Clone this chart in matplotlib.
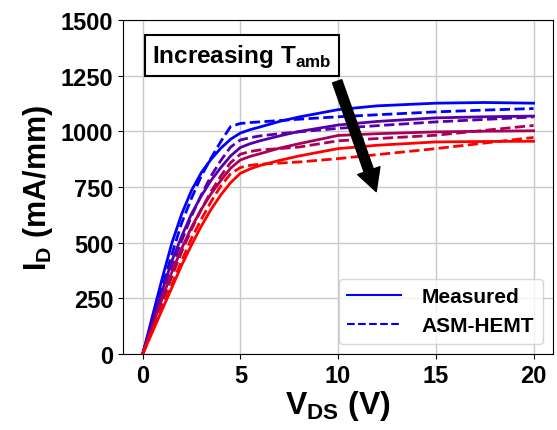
import numpy as np
import matplotlib.pyplot as plt

plt.rcParams['font.family'] = 'Liberation Sans'
plt.rcParams['font.weight'] = 'bold'
plt.rcParams['mathtext.fontset'] = 'custom'
plt.rcParams['mathtext.rm'] = 'Liberation Sans:bold'
plt.rcParams['mathtext.bf'] = 'Liberation Sans:bold'

# drain voltage points (V)
vds = [0, 0.5, 1, 1.5, 2, 2.5, 3, 3.5, 4, 4.5, 5, 5.5, 6, 7, 8, 10, 12, 15, 17.5, 20]

# measured I_D (mA/mm), lowest to highest ambient temperature
meas_t1 = [0, 170, 340, 500, 630, 735, 815, 875, 925, 965, 993, 1008, 1020, 1045, 1065, 1098, 1115, 1127, 1130, 1127]
meas_t2 = [0, 145, 285, 420, 530, 630, 710, 780, 838, 890, 928, 945, 958, 980, 1000, 1029, 1045, 1061, 1066, 1069]
meas_t3 = [0, 125, 250, 370, 475, 570, 650, 720, 780, 835, 872, 888, 900, 925, 945, 982, 990, 998, 1001, 1003]
meas_t4 = [0, 100, 200, 300, 400, 490, 575, 650, 715, 770, 812, 832, 847, 870, 890, 923, 938, 953, 955, 956]

# ASM-HEMT model I_D (mA/mm)
asm_t1 = [0, 150, 300, 450, 590, 700, 800, 880, 955, 1022, 1036, 1040, 1043, 1049, 1055, 1066, 1075, 1088, 1096, 1103]
asm_t2 = [0, 130, 260, 390, 510, 620, 715, 800, 870, 930, 962, 972, 980, 990, 998, 1014, 1026, 1043, 1054, 1065]
asm_t3 = [0, 118, 235, 350, 460, 560, 650, 730, 800, 860, 898, 910, 917, 923, 930, 958, 968, 983, 1005, 1027]
asm_t4 = [0, 105, 210, 315, 420, 520, 605, 685, 755, 810, 838, 848, 853, 858, 863, 878, 896, 923, 948, 973]

meas = [meas_t1, meas_t2, meas_t3, meas_t4]
asm = [asm_t1, asm_t2, asm_t3, asm_t4]
colors = [(i / 3, 0, 1 - i / 3) for i in range(4)]

fig = plt.figure(figsize=(5.57, 4.31), dpi=100)
ax = fig.add_axes([0.221, 0.176, 0.772, 0.775])

for m, a, c in zip(meas, asm, colors):
    ax.plot(vds, m, color=c, lw=2, ls='-')
    ax.plot(vds, a, color=c, lw=2, ls='--')

ax.plot([], [], color='blue', lw=1.5, ls='-', label='Measured')
ax.plot([], [], color='blue', lw=1.5, ls='--', label='ASM-HEMT')

ax.set_xlim(-1, 21)
ax.set_ylim(0, 1500)
ax.set_xticks([0, 5, 10, 15, 20])
ax.set_yticks([0, 250, 500, 750, 1000, 1250, 1500])
ax.tick_params(labelsize=17)
ax.grid(True, color='#c8c8c8', lw=1)
ax.set_axisbelow(True)

ax.set_xlabel(r'V$_{\mathbf{DS}}$ (V)', fontsize=23, fontweight='bold', labelpad=1)
ax.set_ylabel(r'I$_{\mathbf{D}}$ (mA/mm)', fontsize=22, fontweight='bold', labelpad=4)

ax.text(0.276, 0.894, r'Increasing T$_{\mathbf{amb}}$', transform=ax.transAxes,
        fontsize=17.5, fontweight='bold', ha='center', va='center',
        bbox=dict(boxstyle='square,pad=0.3', fc='white', ec='black', lw=1.5))
ax.annotate('', xy=(11.95, 730), xytext=(9.95, 1225),
            arrowprops=dict(facecolor='black', edgecolor='black',
                            width=7, headwidth=17, headlength=16))

leg = ax.legend(loc='lower right', handlelength=2.6, handletextpad=1.0,
                prop={'weight': 'bold', 'size': 15})

fig.savefig('out.png', dpi=100)
